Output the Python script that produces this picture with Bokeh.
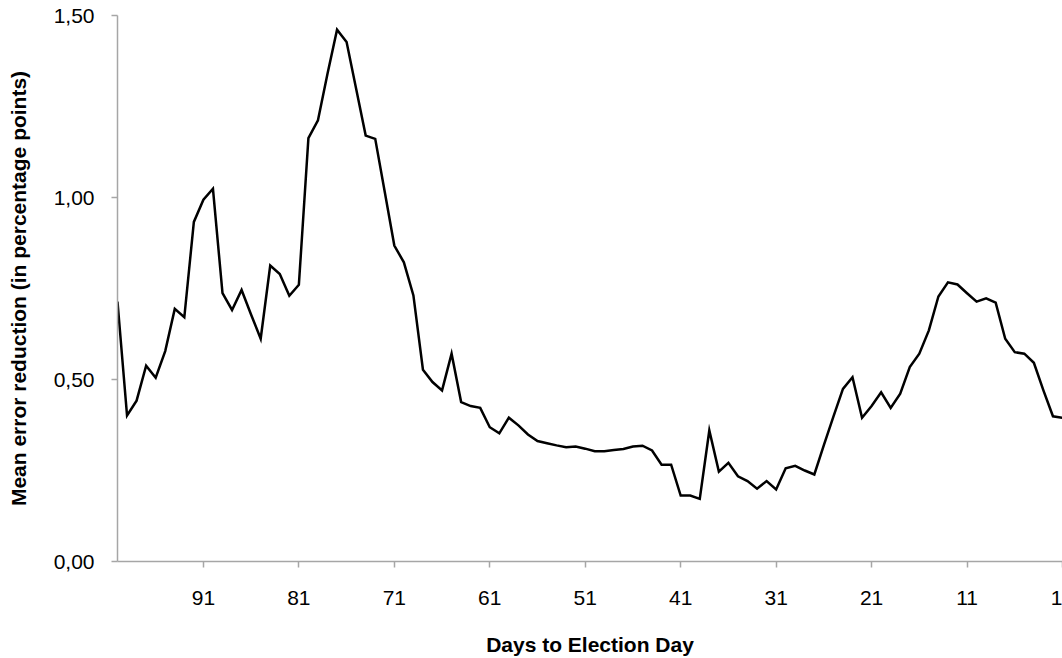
from bokeh.plotting import figure
from bokeh.models import Range1d, FixedTicker
from bokeh.embed import file_html
from bokeh.resources import INLINE

# Days to election day (reversed axis) and mean error reduction
days = list(range(100, 0, -1))
error_reduction = [
    0.714, 0.401, 0.442, 0.538, 0.505, 0.578, 0.694, 0.671, 0.933, 0.994,   # 100-91
    1.024, 0.737, 0.691, 0.746, 0.678, 0.612, 0.813, 0.790, 0.730, 0.760,   # 90-81
    1.163, 1.212, 1.340, 1.461, 1.427, 1.299, 1.170, 1.161, 1.015, 0.868,   # 80-71
    0.822, 0.731, 0.527, 0.493, 0.470, 0.571, 0.438, 0.427, 0.422, 0.369,   # 70-61
    0.352, 0.395, 0.374, 0.349, 0.331, 0.325, 0.319, 0.314, 0.316, 0.310,   # 60-51
    0.303, 0.303, 0.306, 0.309, 0.316, 0.318, 0.305, 0.266, 0.266, 0.181,   # 50-41
    0.181, 0.172, 0.360, 0.247, 0.271, 0.234, 0.221, 0.200, 0.221, 0.198,   # 40-31
    0.256, 0.263, 0.250, 0.239, 0.320, 0.398, 0.474, 0.506, 0.395, 0.427,   # 30-21
    0.465, 0.422, 0.461, 0.534, 0.571, 0.635, 0.728, 0.767, 0.761, 0.737,   # 20-11
    0.714, 0.723, 0.711, 0.612, 0.575, 0.571, 0.546, 0.470, 0.399, 0.395,   # 10-1
]
x_ticks = [91, 81, 71, 61, 51, 41, 31, 21, 11, 1]
y_ticks = [0.0, 0.5, 1.0, 1.5]
y_tick_labels = ["0,00", "0,50", "1,00", "1,50"]
x_title = "Days to Election Day"
y_title = "Mean error reduction (in percentage points)"

FONT = "Liberation Sans"
AXIS_COLOR = "#a6a6a6"

p = figure(
    width=1062, height=658,
    x_range=Range1d(100, 1), y_range=Range1d(0, 1.5),
    output_backend="svg", toolbar_location=None,
    min_border_left=117, min_border_right=0,
    min_border_top=15, min_border_bottom=97,
)
p.outline_line_color = None
p.xgrid.grid_line_color = None
p.ygrid.grid_line_color = None
p.background_fill_color = "white"
p.border_fill_color = "white"

p.line(days, error_reduction, line_color="black", line_width=2.5, line_join="miter")

for ax in (p.xaxis[0], p.yaxis[0]):
    ax.axis_line_color = AXIS_COLOR
    ax.axis_line_width = 1.5
    ax.major_tick_line_color = AXIS_COLOR
    ax.major_tick_line_width = 1.5
    ax.major_tick_out = 6
    ax.major_tick_in = 0
    ax.minor_tick_line_color = None
    ax.major_label_text_font = FONT
    ax.major_label_text_font_size = "21px"
    ax.major_label_text_color = "black"
    ax.axis_label_text_font = FONT
    ax.axis_label_text_font_size = "21px"
    ax.axis_label_text_font_style = "bold"
    ax.axis_label_text_color = "black"

p.xaxis.ticker = FixedTicker(ticks=x_ticks)
p.xaxis.major_label_standoff = 23
p.xaxis.axis_label = x_title
p.xaxis.axis_label_standoff = 25

p.yaxis.ticker = FixedTicker(ticks=y_ticks)
p.yaxis.major_label_overrides = {t: l for t, l in zip(y_ticks, y_tick_labels)}
p.yaxis.major_label_standoff = 17
p.yaxis.axis_label = y_title
p.yaxis.axis_label_standoff = 21

open("out.html", "w").write(file_html(p, INLINE))
